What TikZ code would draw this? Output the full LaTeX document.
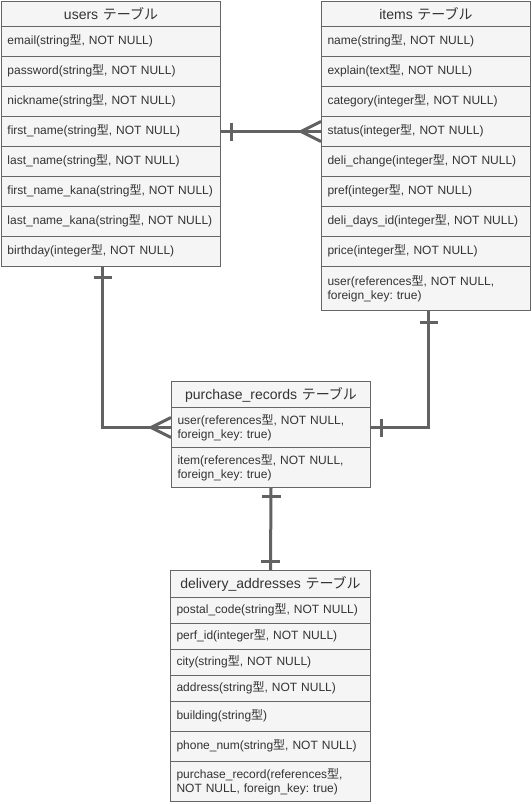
\documentclass[tikz,border=0pt]{standalone}
\usepackage{fontspec}
\setmainfont{Liberation Sans}
\newfontfamily\cjk{Noto Sans CJK JP}
\newcommand\jp[1]{{\cjk #1}}
\frenchspacing
\usetikzlibrary{calc}
\definecolor{edgegray}{HTML}{666666}
\definecolor{cellfill}{HTML}{F5F5F5}
\definecolor{ink}{HTML}{333333}
\definecolor{conngray}{HTML}{626262}
\tikzset{
  cellbox/.style={draw=edgegray, line width=1pt, fill=cellfill, text=ink, anchor=north west,
    inner xsep=6pt, inner ysep=0pt, align=left, font=\fontsize{12}{13.5}\selectfont},
  onebox/.style={cellbox, text height=9pt, text depth=3pt},
  headbox/.style={draw=edgegray, line width=1pt, fill=cellfill, text=ink, anchor=north west,
    inner xsep=6pt, inner ysep=0pt, align=center, font=\fontsize{14}{16}\selectfont},
  ut/.style={minimum width=219pt, text width=207pt},
  it/.style={minimum width=209pt, text width=197pt},
  pt/.style={minimum width=199pt, text width=187pt},
  dt/.style={minimum width=200pt, text width=188pt},
  conn/.style={draw=conngray, line width=3pt},
}
\begin{document}
\begin{tikzpicture}[x=1pt,y=-1pt]
\useasboundingbox (0,0) rectangle (531,804);
% users
\node[headbox,ut,minimum height=25pt] (u0) at (1,1) {users \jp{テーブル}};
\node[onebox,ut,minimum height=30pt] (u1) at (1,26) {email(string\jp{型}, NOT NULL)};
\node[onebox,ut,minimum height=30pt] (u2) at (1,56) {password(string\jp{型}, NOT NULL)};
\node[onebox,ut,minimum height=30pt] (u3) at (1,86) {nickname(string\jp{型}, NOT NULL)};
\node[onebox,ut,minimum height=30pt] (u4) at (1,116) {first\_name(string\jp{型}, NOT NULL)};
\node[onebox,ut,minimum height=30pt] (u5) at (1,146) {last\_name(string\jp{型}, NOT NULL)};
\node[onebox,ut,minimum height=30pt] (u6) at (1,176) {first\_name\_kana(string\jp{型}, NOT NULL)};
\node[onebox,ut,minimum height=30pt] (u7) at (1,206) {last\_name\_kana(string\jp{型}, NOT NULL)};
\node[onebox,ut,minimum height=30pt] (u8) at (1,236) {birthday(integer\jp{型}, NOT NULL)};
% items
\node[headbox,it,minimum height=25pt] (i0) at (321,1) {items \jp{テーブル}};
\node[onebox,it,minimum height=30pt] (i1) at (321,26) {name(string\jp{型}, NOT NULL)};
\node[onebox,it,minimum height=30pt] (i2) at (321,56) {explain(text\jp{型}, NOT NULL)};
\node[onebox,it,minimum height=30pt] (i3) at (321,86) {category(integer\jp{型}, NOT NULL)};
\node[onebox,it,minimum height=30pt] (i4) at (321,116) {status(integer\jp{型}, NOT NULL)};
\node[onebox,it,minimum height=30pt] (i5) at (321,146) {deli\_change(integer\jp{型}, NOT NULL)};
\node[onebox,it,minimum height=30pt] (i6) at (321,176) {pref(integer\jp{型}, NOT NULL)};
\node[onebox,it,minimum height=30pt] (i7) at (321,206) {deli\_days\_id(integer\jp{型}, NOT NULL)};
\node[onebox,it,minimum height=30pt] (i8) at (321,236) {price(integer\jp{型}, NOT NULL)};
\node[cellbox,it,minimum height=44pt] (i9) at (321,266) {user(references\jp{型}, NOT NULL,\\foreign\_key: true)};
% purchase_records
\node[headbox,pt,minimum height=26pt] (p0) at (171,381) {purchase\_records \jp{テーブル}};
\node[cellbox,pt,minimum height=40pt] (p1) at (171,407) {user(references\jp{型}, NOT NULL,\\foreign\_key: true)};
\node[cellbox,pt,minimum height=40pt] (p2) at (171,447) {item(references\jp{型}, NOT NULL,\\foreign\_key: true)};
% delivery_addresses
\node[headbox,dt,minimum height=27pt] (d0) at (170,570) {delivery\_addresses \jp{テーブル}};
\node[onebox,dt,minimum height=26pt] (d1) at (170,597) {postal\_code(string\jp{型}, NOT NULL)};
\node[onebox,dt,minimum height=26pt] (d2) at (170,623) {perf\_id(integer\jp{型}, NOT NULL)};
\node[onebox,dt,minimum height=26pt] (d3) at (170,649) {city(string\jp{型}, NOT NULL)};
\node[onebox,dt,minimum height=26pt] (d4) at (170,675) {address(string\jp{型}, NOT NULL)};
\node[onebox,dt,minimum height=30pt] (d5) at (170,701) {building(string\jp{型})};
\node[onebox,dt,minimum height=30pt] (d6) at (170,731) {phone\_num(string\jp{型}, NOT NULL)};
\node[cellbox,dt,minimum height=40pt] (d7) at (170,761) {purchase\_record(references\jp{型},\\NOT NULL, foreign\_key: true)};
% users -- items
\draw[conn] (u4.east) -- (i4.west);
\draw[conn] ([xshift=10pt,yshift=9pt]u4.east) -- ([xshift=10pt,yshift=-9pt]u4.east);
\draw[conn] ([yshift=10pt]i4.west) -- ([xshift=-20pt]i4.west) -- ([yshift=-10pt]i4.west);
% users -- purchase_records
\draw[conn] ([xshift=-8.5pt]u8.south) |- (p1.west);
\draw[conn] ([xshift=-17.5pt,yshift=-10pt]u8.south) -- ([xshift=0.5pt,yshift=-10pt]u8.south);
\draw[conn] ([yshift=10pt]p1.west) -- ([xshift=-20pt]p1.west) -- ([yshift=-10pt]p1.west);
% items -- purchase_records
\draw[conn] ([xshift=2.5pt]i9.south) |- (p1.east);
\draw[conn] ([xshift=-6.5pt,yshift=-11pt]i9.south) -- ([xshift=11.5pt,yshift=-11pt]i9.south);
\draw[conn] ([xshift=10pt,yshift=9pt]p1.east) -- ([xshift=10pt,yshift=-9pt]p1.east);
% purchase_records -- delivery_addresses
\draw[conn] (p2.south) -- (d0.north);
\draw[conn] ([xshift=-9.5pt,yshift=-8pt]p2.south) -- ([xshift=9.5pt,yshift=-8pt]p2.south);
\draw[conn] ([xshift=-9.5pt,yshift=9pt]d0.north) -- ([xshift=9.5pt,yshift=9pt]d0.north);
\end{tikzpicture}
\end{document}
